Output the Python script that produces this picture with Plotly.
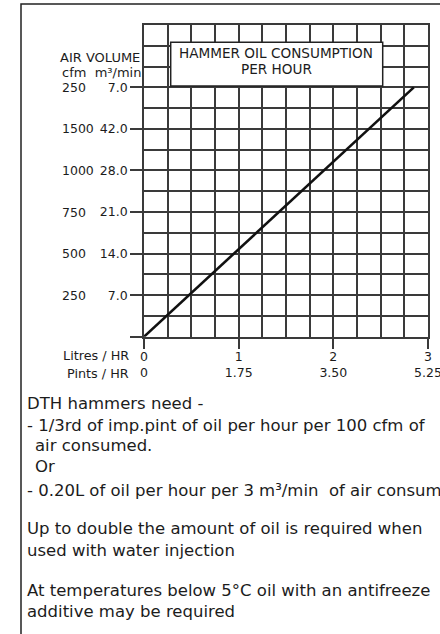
import plotly.graph_objects as go

W, H = 440, 634

# Oil consumption line: litres per hour against air volume (m³/min)
litres_per_hr = [0, 2.85]
air_m3_min = [0, 42]

# Y axis tick positions (m³/min scale) and the printed labels
y_tick_vals = [0, 7, 14, 21, 28, 35, 42]
m3_labels = ["", "7.0", "14.0", "21.0", "28.0", "42.0", "7.0"]
cfm_labels = ["", "250", "500", "750", "1000", "1500", "250"]

# X axis ticks: litres per hour and the pints equivalent
x_tick_vals = [0, 1, 2, 3]
litre_labels = ["0", "1", "2", "3"]
pint_labels = ["0", "1.75", "3.50", "5.25"]

notes = [
    ("DTH hammers need -", 26.7, 403.3),
    ("- 1/3rd of imp.pint of oil per hour per 100 cfm of", 26.7, 425.0),
    ("air consumed.", 35.0, 445.5),
    ("Or", 35.0, 466.7),
    ("- 0.20L of oil per hour per 3 m³/min  of air consumed", 26.7, 490.0),
    ("Up to double the amount of oil is required when", 26.7, 528.3),
    ("used with water injection", 26.7, 550.0),
    ("At temperatures below 5°C oil with an antifreeze", 26.7, 590.0),
    ("additive may be required", 26.7, 611.7),
]

FONT = "DejaVu Sans"
INK = "#1c1c1c"
GRID = "#3a3a3a"


def px_x(x):
    return x / W


def px_y(y):
    return 1 - y / H


fig = go.Figure()
fig.add_trace(go.Scatter(
    x=litres_per_hr, y=air_m3_min, mode="lines",
    line=dict(color="#111111", width=2.6),
    hoverinfo="skip", showlegend=False,
))

plot_left, plot_right, plot_top, plot_bottom = 144, 428, 25, 336.7

fig.update_layout(
    width=W, height=H,
    margin=dict(l=0, r=0, t=0, b=0),
    paper_bgcolor="white", plot_bgcolor="white",
    showlegend=False,
    xaxis=dict(
        domain=[px_x(plot_left), px_x(plot_right)],
        range=[0, 3], tickmode="array", tickvals=x_tick_vals,
        ticktext=[f"{a}<br>{b}" for a, b in zip(litre_labels, pint_labels)],
        ticks="outside", ticklen=10, tickwidth=1.5, tickcolor=GRID,
        tickfont=dict(family=FONT, size=12.5, color=INK),
        ticklabeloverflow="allow", ticklabelstandoff=-3, automargin=False,
        showgrid=True, gridcolor=GRID, gridwidth=1.6,
        minor=dict(dtick=0.25, tick0=0, showgrid=True, gridcolor=GRID, gridwidth=1.6),
        showline=True, mirror=True, linecolor=GRID, linewidth=1.6,
        zeroline=False, fixedrange=True,
    ),
    yaxis=dict(
        domain=[px_y(plot_bottom), px_y(plot_top)],
        range=[0, 52.5], tickmode="array", tickvals=y_tick_vals, ticktext=m3_labels,
        ticks="outside", ticklen=12, tickwidth=1.5, tickcolor=GRID,
        tickfont=dict(family=FONT, size=12.5, color=INK),
        ticklabeloverflow="allow", automargin=False,
        showgrid=True, gridcolor=GRID, gridwidth=1.6,
        minor=dict(dtick=3.5, tick0=0, showgrid=True, gridcolor=GRID, gridwidth=1.6),
        showline=True, mirror=True, linecolor=GRID, linewidth=1.6,
        zeroline=False, fixedrange=True,
    ),
)

shapes = [
    # outer frame
    dict(type="rect", xref="paper", yref="paper",
         x0=px_x(21), x1=1.05, y0=-0.05, y1=px_y(4),
         line=dict(color="#222222", width=1.5), fillcolor="rgba(0,0,0,0)", layer="below"),
    # title box
    dict(type="rect", xref="paper", yref="paper",
         x0=px_x(170.7), x1=px_x(382.7), y0=px_y(86), y1=px_y(42.3),
         line=dict(color="#222222", width=1.5), fillcolor="white", layer="above"),
]
fig.update_layout(shapes=shapes)


def label(text, x, y, anchor, size, yref="paper"):
    return dict(text=text, x=x, y=y, xref="paper", yref=yref,
                xanchor=anchor, yanchor="middle", showarrow=False,
                font=dict(family=FONT, size=size, color=INK))


ann = [
    label("HAMMER OIL CONSUMPTION", px_x(276), px_y(52.5), "center", 13.6),
    label("PER HOUR", px_x(276), px_y(68.5), "center", 13.6),
    label("AIR VOLUME", px_x(142), px_y(57.5), "right", 13),
    label("cfm  m³/min", px_x(143), px_y(72.5), "right", 13),
    label("Litres / HR", px_x(131), px_y(355.7), "right", 12.8),
    label("Pints / HR", px_x(131), px_y(373.3), "right", 12.8),
]
for v, lab in zip(y_tick_vals, cfm_labels):
    if lab:
        ann.append(label(lab, px_x(60), v, "left", 12.5, yref="y"))
for text, x, y in notes:
    ann.append(label(text, px_x(x - 2), px_y(y), "left", 16.5))
fig.update_layout(annotations=ann)

fig.write_html("out.html", config=dict(displayModeBar=False))
